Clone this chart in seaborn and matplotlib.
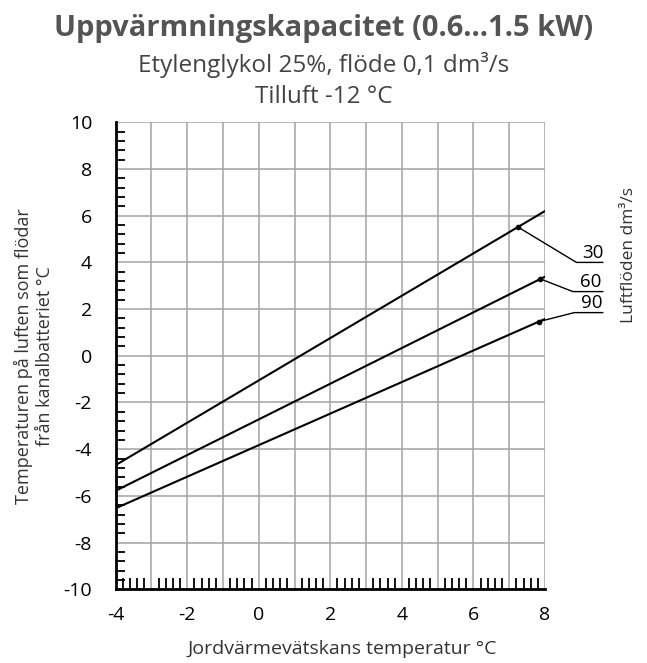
import numpy as np
import pandas as pd
import matplotlib
matplotlib.use("Agg")
import matplotlib.pyplot as plt
from matplotlib.ticker import MultipleLocator
import seaborn as sns

# ---- data ----
x_ends = [-4, 8]
y_30 = [-4.68, 6.20]
y_60 = [-5.78, 3.39]
y_90 = [-6.53, 1.58]
flows = ["30", "60", "90"]
marker_x = [7.25, 7.86, 7.82]
marker_y = [5.51, 3.30, 1.46]
x_ticks = list(range(-4, 9))
x_ticklabels = [str(v) if v % 2 == 0 else "" for v in x_ticks]
y_ticks = list(range(-10, 11, 2))

title = "Uppvärmningskapacitet (0.6...1.5 kW)"
subtitle1 = "Etylenglykol 25%, flöde 0,1 dm³/s"
subtitle2 = "Tilluft -12 °C"
xlabel = "Jordvärmevätskans temperatur °C"
ylabel = "Temperaturen på luften som flödar\nfrån kanalbatteriet °C"
rlabel = "Luftflöden dm³/s"

df = pd.DataFrame({
    "x": x_ends * 3,
    "y": y_30 + y_60 + y_90,
    "flow": [f for f in flows for _ in x_ends],
})
mk = pd.DataFrame({"x": marker_x, "y": marker_y, "flow": flows})

sns.set_theme(style="white")
plt.rcParams["font.family"] = ["Open Sans", "DejaVu Sans"]
plt.rcParams["axes.unicode_minus"] = False

fig = plt.figure(figsize=(6.47, 6.63), dpi=100)
ax = fig.add_axes([0.1788, 0.1112, 0.8423 - 0.1788, 0.8155 - 0.1112])

grid_c = "#a3a3a3"
sns.lineplot(data=df, x="x", y="y", hue="flow", palette=["black"] * 3,
             legend=False, linewidth=1.5, ax=ax, zorder=4)
sns.scatterplot(data=mk, x="x", y="y", color="black", s=14, legend=False,
                ax=ax, zorder=5, edgecolor="black")

ax.set_xlim(-4, 8)
ax.set_ylim(-10, 10)
ax.set_xticks(x_ticks)
ax.set_xticklabels(x_ticklabels)
ax.set_yticks(y_ticks)
ax.xaxis.set_minor_locator(MultipleLocator(0.2))
ax.yaxis.set_minor_locator(MultipleLocator(0.4))
ax.grid(True, which="major", color=grid_c, linewidth=1.1, zorder=1)
ax.set_axisbelow(True)

ax.tick_params(axis="x", which="major", direction="out", length=9.5,
               width=1.1, color=grid_c, labelsize=14, pad=2.5, labelcolor="black")
ax.tick_params(axis="y", which="major", direction="out", length=13,
               width=1.1, color=grid_c, labelsize=14, pad=4, labelcolor="black")
ax.tick_params(axis="x", which="minor", direction="in", length=8,
               width=1.3, color="black", bottom=True)
ax.tick_params(axis="y", which="minor", direction="in", length=6.5,
               width=1.3, color="black", left=True)

for s in ["top", "right"]:
    ax.spines[s].set_visible(False)
for s in ["left", "bottom"]:
    ax.spines[s].set_color("black")
    ax.spines[s].set_linewidth(2)
    ax.spines[s].set_zorder(6)

ax.set_xlabel(xlabel, fontsize=14, color="#333333")
ax.xaxis.set_label_coords(0.527, -0.108)
ax.set_ylabel(ylabel, fontsize=13, color="#333333", linespacing=1.2)
ax.yaxis.set_label_coords(-0.143, 0.5)

# leader lines and labels
elbow_x = [8.88, 8.78, 8.82]
elbow_y = [4.00, 2.75, 1.85]
end_x = 9.62
for f, mx_, my_, ex, ey in zip(flows, marker_x, marker_y, elbow_x, elbow_y):
    ax.plot([mx_, ex, end_x], [my_, ey, ey], color="black", linewidth=1.0,
            clip_on=False, zorder=5)
    ax.text((ex + end_x) / 2 + 0.08, ey + 0.02, f, fontsize=13.5,
            ha="center", va="bottom", color="black", clip_on=False)

fig.text(0.972, 0.615, rlabel, rotation=90, ha="center", va="center",
         fontsize=12.5, color="#333333")

fig.text(0.5, 0.957, title, ha="center", va="center", fontsize=21,
         fontweight="bold", color="#545454")
fig.text(0.5, 0.902, subtitle1, ha="center", va="center", fontsize=17.5,
         color="#444444")
fig.text(0.5, 0.853, subtitle2, ha="center", va="center", fontsize=17.5,
         color="#444444")

fig.savefig("out.png", dpi=100, facecolor="white")
